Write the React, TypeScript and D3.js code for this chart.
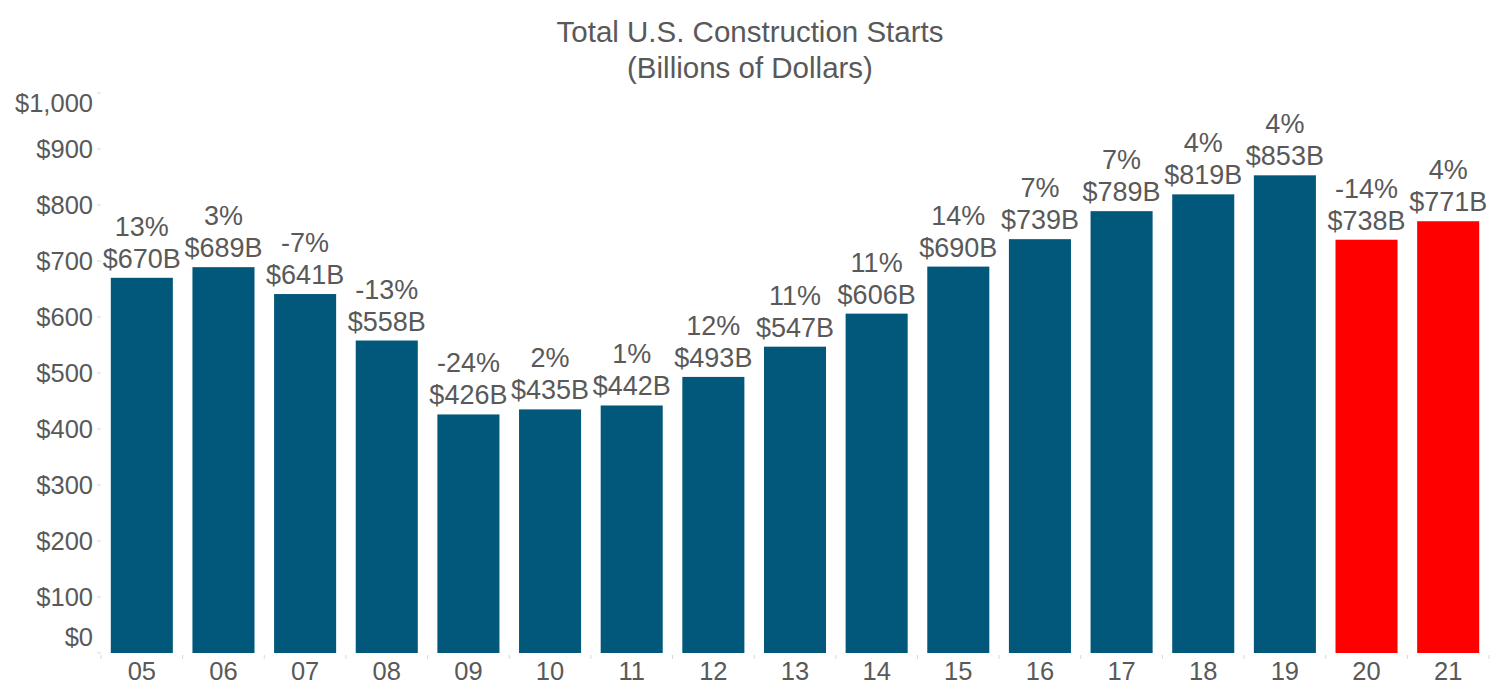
import React, { useEffect, useRef } from 'react';
import * as d3 from 'd3';

const years = ['05', '06', '07', '08', '09', '10', '11', '12', '13', '14', '15', '16', '17', '18', '19', '20', '21'];
const starts = [670, 689, 641, 558, 426, 435, 442, 493, 547, 606, 690, 739, 789, 819, 853, 738, 771];
const changes = ['13%', '3%', '-7%', '-13%', '-24%', '2%', '1%', '12%', '11%', '11%', '14%', '7%', '7%', '4%', '4%', '-14%', '4%'];
const forecastYears = ['20', '21'];
const yTicks = [0, 100, 200, 300, 400, 500, 600, 700, 800, 900, 1000];

const W = 1500;
const H = 700;
const FONT = '"Liberation Sans", Arial, sans-serif';
const TEXT = '#595959';

export default function App() {
  const svgRef = useRef<SVGSVGElement>(null);

  useEffect(() => {
    document.body.style.margin = '0';
    if (!svgRef.current) return;

    const margin = { top: 93, right: 11, bottom: 47, left: 101 };
    const innerW = W - margin.left - margin.right;
    const innerH = H - margin.top - margin.bottom;

    const root = d3.select(svgRef.current);
    root.selectAll('*').remove();

    // Title
    const title = root.append('g').attr('font-family', FONT).attr('fill', TEXT).attr('font-size', 29.5).attr('text-anchor', 'middle');
    title.append('text').attr('x', 750).attr('y', 42).text('Total U.S. Construction Starts');
    title.append('text').attr('x', 750).attr('y', 78).text('(Billions of Dollars)');

    const svg = root.append('g').attr('transform', `translate(${margin.left},${margin.top})`);

    const x = d3.scaleBand().domain(years).range([0, innerW]).paddingInner(0.24).paddingOuter(0.12);
    const y = d3.scaleLinear().domain([0, 1000]).range([innerH, 0]);

    // Y axis ticks + labels (end labels kept inside the plot like the original)
    const yAxis = svg.append('g');
    yAxis
      .selectAll('line')
      .data(yTicks)
      .enter()
      .append('line')
      .attr('x1', -4)
      .attr('x2', 0)
      .attr('y1', (d) => y(d))
      .attr('y2', (d) => y(d))
      .attr('stroke', '#d9d9d9');
    yAxis
      .selectAll('text')
      .data(yTicks)
      .enter()
      .append('text')
      .attr('x', -8)
      .attr('y', (d) => Math.min(Math.max(y(d), 10), innerH - 16))
      .attr('dy', '0.35em')
      .attr('text-anchor', 'end')
      .attr('font-family', FONT)
      .attr('font-size', 25.5)
      .attr('fill', TEXT)
      .text((d) => '$' + d3.format(',')(d));

    // X axis tick marks at band boundaries
    const step = x.step();
    const bounds = d3.range(years.length + 1).map((i) => i * step);
    svg
      .append('g')
      .selectAll('line')
      .data(bounds)
      .enter()
      .append('line')
      .attr('x1', (d) => d)
      .attr('x2', (d) => d)
      .attr('y1', innerH + 2)
      .attr('y2', innerH + 6)
      .attr('stroke', '#d9d9d9');

    svg
      .append('g')
      .selectAll('text')
      .data(years)
      .enter()
      .append('text')
      .attr('x', (d) => x(d)! + x.bandwidth() / 2)
      .attr('y', innerH + 27)
      .attr('text-anchor', 'middle')
      .attr('font-family', FONT)
      .attr('font-size', 25.5)
      .attr('fill', TEXT)
      .text((d) => d);

    // Bars
    svg
      .selectAll('.bar')
      .data(years)
      .enter()
      .append('rect')
      .attr('class', 'bar')
      .attr('x', (d) => x(d)!)
      .attr('width', x.bandwidth())
      .attr('y', (d, i) => y(starts[i]))
      .attr('height', (d, i) => innerH - y(starts[i]))
      .attr('fill', (d) => (forecastYears.includes(d) ? '#ff0000' : '#02587a'));

    // Labels
    const labels = svg
      .selectAll('.lbl')
      .data(years)
      .enter()
      .append('g')
      .attr('class', 'lbl')
      .attr('font-family', FONT)
      .attr('font-size', 27)
      .attr('fill', TEXT)
      .attr('text-anchor', 'middle');
    labels
      .append('text')
      .attr('x', (d) => x(d)! + x.bandwidth() / 2)
      .attr('y', (d, i) => y(starts[i]) - 10)
      .text((d, i) => '$' + starts[i] + 'B');
    labels
      .append('text')
      .attr('x', (d) => x(d)! + x.bandwidth() / 2)
      .attr('y', (d, i) => y(starts[i]) - 42)
      .text((d, i) => changes[i]);
  }, []);

  return <svg ref={svgRef} width={W} height={H} style={{ display: 'block', background: '#fff' }}></svg>;
}
